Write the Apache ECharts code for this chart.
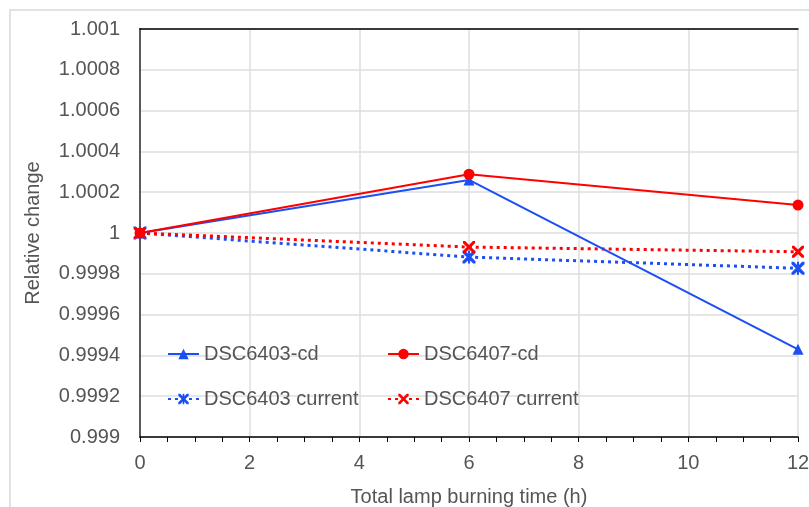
<!DOCTYPE html>
<html>
<head>
<meta charset="utf-8">
<script src="https://cdn.jsdelivr.net/npm/echarts@6/dist/echarts.min.js"></script>
<style>
  html, body { margin: 0; padding: 0; background: #fff; }
  #chart { width: 809px; height: 507px; }
</style>
</head>
<body>
<div id="chart"></div>
<script>
// lamp burning time (h)
const hours = [0, 6, 12];
// relative change
const dsc6403Cd = [1, 1.00026, 0.99943];
const dsc6407Cd = [1, 1.000288, 1.000137];
const dsc6403Current = [1, 0.999882, 0.999827];
const dsc6407Current = [1, 0.999931, 0.999908];

const seriesNames = ['DSC6403-cd', 'DSC6407-cd', 'DSC6403 current', 'DSC6407 current'];

const BLUE = '#1b4ff5';
const RED = '#ff0000';
const FONT = 'Liberation Sans, Arial, sans-serif';

// stroked marker shapes built as filled paths
const crossPath = 'path://M0,0L1.8,0L5,3.2L8.2,0L10,0L10,1.8L6.8,5L10,8.2L10,10L8.2,10L5,6.8L1.8,10L0,10L0,8.2L3.2,5L0,1.8Z';
const starPath = crossPath.replace('Z', 'ZM4.2,0L5.8,0L5.8,10L4.2,10Z');

const pairs = ys => hours.map((h, i) => [h, ys[i]]);

const chart = echarts.init(document.getElementById('chart'));

const legendBase = {
  orient: 'horizontal',
  itemWidth: 31,
  itemHeight: 13,
  textStyle: { fontSize: 20, color: '#555', fontFamily: FONT },
  selectedMode: false
};

chart.setOption({
  animation: false,
  backgroundColor: '#fff',
  textStyle: { fontFamily: FONT },
  graphic: [{
    type: 'rect',
    shape: { x: 10, y: 10, width: 900, height: 600 },
    style: { fill: 'none', stroke: '#e2e2e2', lineWidth: 2 },
    silent: true,
    z: -10
  }],
  grid: { left: 140, right: 11, top: 29, bottom: 70, containLabel: false, outerBoundsMode: 'none' },
  legend: [
    Object.assign({ data: [seriesNames[0]], left: 162, top: 339 }, legendBase),
    Object.assign({ data: [seriesNames[1]], left: 382, top: 339 }, legendBase),
    Object.assign({ data: [seriesNames[2]], left: 162, top: 384 }, legendBase),
    Object.assign({ data: [seriesNames[3]], left: 382, top: 384 }, legendBase)
  ],
  xAxis: [{
    type: 'value',
    min: 0,
    max: 12,
    interval: 2,
    name: 'Total lamp burning time (h)',
    nameLocation: 'middle',
    nameGap: 50,
    nameMoveOverlap: false,
    nameTextStyle: { fontSize: 20, color: '#555' },
    axisLine: { lineStyle: { color: '#000', width: 1.5 } },
    axisTick: { show: true, length: 5, lineStyle: { color: '#000' } },
    minorTick: { show: true, splitNumber: 4, length: 5, lineStyle: { color: '#000' } },
    axisLabel: { fontSize: 20, color: '#555', margin: 16 },
    splitLine: { show: true, lineStyle: { color: '#dedede', width: 1.5 } }
  }, {
    type: 'value',
    position: 'top',
    min: 0,
    max: 12,
    axisLine: { show: true, lineStyle: { color: '#000', width: 1.5 } },
    axisTick: { show: false },
    axisLabel: { show: false },
    splitLine: { show: false }
  }],
  yAxis: [{
    type: 'value',
    min: 0.999,
    max: 1.001,
    interval: 0.0002,
    name: 'Relative change',
    nameLocation: 'middle',
    nameGap: 97,
    nameMoveOverlap: false,
    nameTextStyle: { fontSize: 20, color: '#555' },
    axisLine: { show: true, lineStyle: { color: '#000', width: 1.5 } },
    axisTick: { show: false },
    axisLabel: {
      fontSize: 20,
      color: '#555',
      margin: 20,
      formatter: v => String(parseFloat(v.toFixed(4)))
    },
    splitLine: { show: true, lineStyle: { color: '#dedede', width: 1.5 } }
  }, {
    type: 'value',
    position: 'right',
    min: 0.999,
    max: 1.001,
    axisLine: { show: true, lineStyle: { color: '#666', width: 1.5 } },
    axisTick: { show: false },
    axisLabel: { show: false },
    splitLine: { show: false }
  }],
  series: [
    {
      name: seriesNames[0],
      type: 'line',
      data: pairs(dsc6403Cd),
      symbol: 'triangle',
      symbolSize: 11,
      color: BLUE,
      lineStyle: { width: 2, color: BLUE },
      z: 3
    },
    {
      name: seriesNames[1],
      type: 'line',
      data: pairs(dsc6407Cd),
      symbol: 'circle',
      symbolSize: 11,
      color: RED,
      lineStyle: { width: 2, color: RED },
      z: 4
    },
    {
      name: seriesNames[2],
      type: 'line',
      data: pairs(dsc6403Current),
      symbol: starPath,
      symbolSize: 13,
      color: BLUE,
      lineStyle: { width: 3, color: BLUE, type: [3, 4] },
      z: 2
    },
    {
      name: seriesNames[3],
      type: 'line',
      data: pairs(dsc6407Current),
      symbol: crossPath,
      symbolSize: 12,
      color: RED,
      lineStyle: { width: 3, color: RED, type: [3, 4] },
      z: 2
    }
  ]
});
</script>
</body>
</html>
